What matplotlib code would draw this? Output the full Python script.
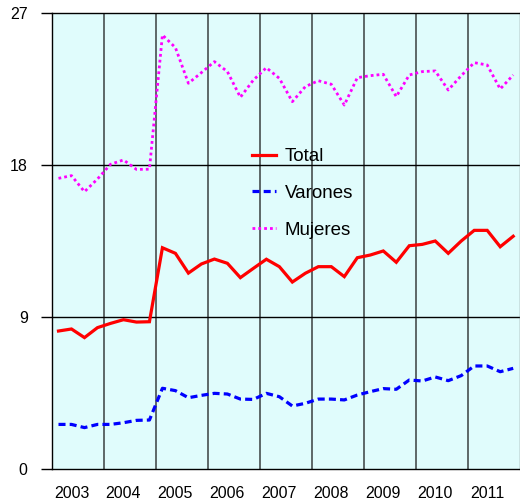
import matplotlib
matplotlib.use("Agg")
import matplotlib.pyplot as plt
import numpy as np

years = ["2003", "2004", "2005", "2006", "2007", "2008", "2009", "2010", "2011"]

total = [8.17, 8.29, 7.78, 8.37, 8.62, 8.84, 8.70, 8.72,
         13.10, 12.77, 11.60, 12.14, 12.43, 12.18, 11.33, 11.88,
         12.42, 11.98, 11.07, 11.59, 11.98, 11.98, 11.39, 12.51,
         12.67, 12.91, 12.24, 13.22, 13.30, 13.50, 12.77, 13.50,
         14.13, 14.13, 13.16, 13.78]

varones = [2.64, 2.64, 2.45, 2.64, 2.64, 2.74, 2.88, 2.90,
           4.78, 4.64, 4.22, 4.36, 4.48, 4.44, 4.14, 4.12,
           4.48, 4.28, 3.73, 3.89, 4.14, 4.14, 4.09, 4.38,
           4.58, 4.76, 4.72, 5.27, 5.21, 5.45, 5.23, 5.53,
           6.10, 6.10, 5.76, 5.96]

mujeres = [17.21, 17.37, 16.42, 17.17, 18.04, 18.30, 17.74, 17.75,
           25.70, 24.95, 22.84, 23.47, 24.12, 23.53, 22.01, 23.03,
           23.76, 23.13, 21.75, 22.64, 22.99, 22.78, 21.55, 23.17,
           23.29, 23.37, 22.05, 23.33, 23.53, 23.57, 22.44, 23.29,
           24.06, 23.92, 22.50, 23.33]

labels = ["Total", "Varones", "Mujeres"]
y_ticks = [0, 9, 18, 27]

plt.rcParams['font.family'] = ['Liberation Sans', 'DejaVu Sans']

fig = plt.figure(figsize=(5.2, 5.03), dpi=100)
ax = fig.add_axes([52/520, 34/503, 467.7/520, 456/503])
ax.set_facecolor('#E0FCFC')

n = len(total)
x = np.arange(n) + 0.5

ax.plot(x, total, color='#FF0000', lw=2.3, label=labels[0], solid_joinstyle='miter', zorder=3)
ax.plot(x, varones, color='#0000FF', lw=2.3, linestyle=(0, (2.2, 1.3)), label=labels[1], zorder=3)
ax.plot(x, mujeres, color='#FF00FF', lw=2.0, linestyle=(0, (1.0, 1.1)), label=labels[2], zorder=3)

ax.set_xlim(0, n)
ax.set_ylim(0, 27)

# year separators
for k in range(1, len(years)):
    ax.axvline(4 * k, color='#3a4040', lw=1.1, zorder=1)
for v in y_ticks[1:-1]:
    ax.axhline(v, color='black', lw=1.0, zorder=1)

ax.set_yticks(y_ticks)
ax.set_yticklabels([str(v) for v in y_ticks], fontsize=11.5)
ax.tick_params(axis='y', length=8, width=1, pad=9.5, color='black')

ax.set_xticks([4 * k + 1.5 for k in range(len(years))])
ax.set_xticklabels(years, fontsize=11.5)
ax.tick_params(axis='x', length=0, pad=12)

for s in ax.spines.values():
    s.set_color('black')
    s.set_linewidth(1.0)
ax.spines['right'].set_color('#707878')

leg = ax.legend(loc='center left', bbox_to_anchor=(0.428, 0.6042), frameon=False,
                fontsize=13.5, handlelength=1.25, handletextpad=0.5,
                labelspacing=1.04, borderpad=0, borderaxespad=0)

fig.savefig('out.png', dpi=100)
